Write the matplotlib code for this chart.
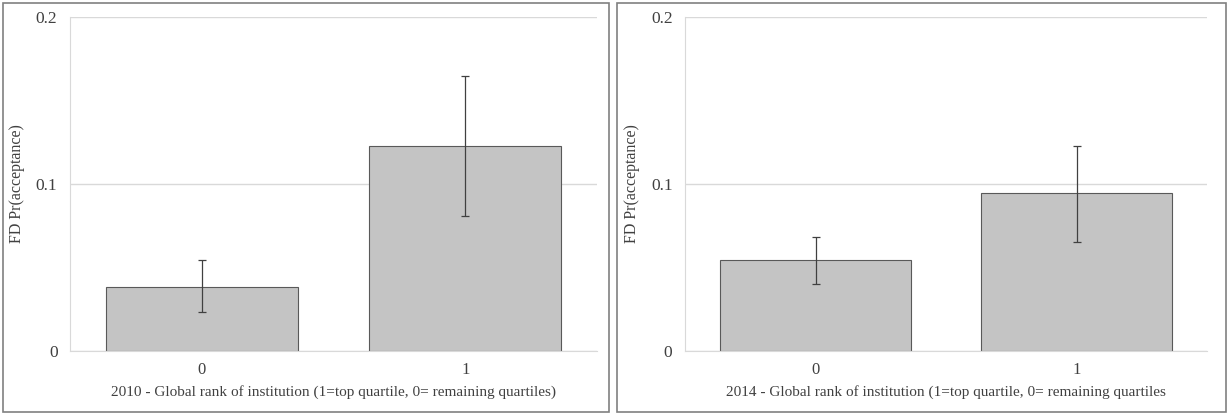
import matplotlib.pyplot as plt
from matplotlib.patches import Rectangle

plt.rcParams['font.family'] = ['Liberation Serif', 'DejaVu Serif']

cats = ["0", "1"]
vals_2010 = [0.0385, 0.1230]
lo_2010 = [0.0235, 0.0808]
hi_2010 = [0.0545, 0.1648]
vals_2014 = [0.0547, 0.0948]
lo_2014 = [0.0403, 0.0655]
hi_2014 = [0.0683, 0.1230]
xlabels = ["2010 - Global rank of institution (1=top quartile, 0= remaining quartiles)",
           "2014 - Global rank of institution (1=top quartile, 0= remaining quartiles"]

fig = plt.figure(figsize=(12.29, 4.15), dpi=100)

# panel borders
for x0, x1 in [(3, 609), (617, 1226)]:
    fig.patches.append(Rectangle((x0 / 1229, 3 / 415), (x1 - x0) / 1229, 409 / 415,
                                 transform=fig.transFigure, fill=False,
                                 edgecolor="#808080", linewidth=1.2))

axes_pos = [[70 / 1229, 64 / 415, 527 / 1229, 334 / 415],
            [685 / 1229, 64 / 415, 522 / 1229, 334 / 415]]
data = [(vals_2010, lo_2010, hi_2010), (vals_2014, lo_2014, hi_2014)]

for pos, (v, lo, hi), xl in zip(axes_pos, data, xlabels):
    ax = fig.add_axes(pos)
    x = range(len(cats))
    yerr = [[a - b for a, b in zip(v, lo)], [b - a for a, b in zip(v, hi)]]
    ax.bar(x, v, width=0.73, color="#c4c4c4", edgecolor="#595959", linewidth=0.8, zorder=2)
    ax.errorbar(x, v, yerr=yerr, fmt="none", ecolor="#404040", elinewidth=0.9,
                capsize=3, capthick=0.9, zorder=3)
    ax.set_xlim(-0.5, 1.5)
    ax.set_ylim(0, 0.2)
    ax.set_yticks([0, 0.1, 0.2])
    ax.set_yticklabels(["0", "0.1", "0.2"])
    ax.set_xticks(list(x))
    ax.set_xticklabels(cats)
    ax.yaxis.grid(True, color="#d9d9d9", linewidth=1, zorder=1)
    ax.set_axisbelow(True)
    for s in ["top", "right"]:
        ax.spines[s].set_visible(False)
    ax.spines["left"].set_color("#d9d9d9")
    ax.spines["bottom"].set_color("#d9d9d9")
    ax.tick_params(axis="y", length=0, labelsize=12.5, colors="#404040", pad=9)
    ax.tick_params(axis="x", length=0, labelsize=12, colors="#404040", pad=8)
    ax.set_xlabel(xl, fontsize=11, color="#404040", labelpad=5)
    ax.set_ylabel("FD Pr(acceptance)", fontsize=11.5, color="#404040", labelpad=8)

fig.savefig("out.png", dpi=100)
